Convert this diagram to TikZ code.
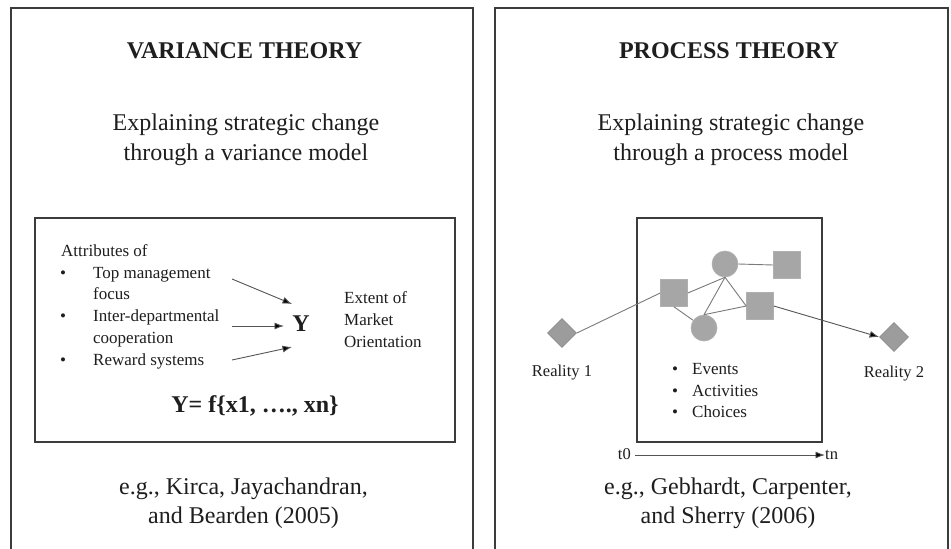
\documentclass[tikz,border=0pt]{standalone}
\usepackage{fontspec}
\setmainfont{Liberation Serif}
\usetikzlibrary{arrows.meta,shapes.geometric}
\definecolor{ink}{HTML}{1E1E1E}
\definecolor{frame}{HTML}{3C3C3C}
\definecolor{shapegray}{HTML}{9C9C9C}
\definecolor{shapeedge}{HTML}{8C8C8C}
\definecolor{linkgray}{HTML}{7A7A7A}
\tikzset{
  titlestyle/.style={font=\fontsize{24}{28}\selectfont\bfseries, text=ink, anchor=base, inner sep=0pt},
  bigtext/.style={font=\fontsize{24}{28}\selectfont, text=ink, anchor=base, inner sep=0pt},
  smalltext/.style={font=\fontsize{17}{20}\selectfont, text=ink, anchor=base west, inner sep=0pt},
  labeltext/.style={font=\fontsize{16.5}{20}\selectfont, text=ink, anchor=base, inner sep=0pt},
  outerframe/.style={draw=frame, line width=1.6pt},
  innerframe/.style={draw=frame, line width=1.8pt},
  diam/.style={diamond, aspect=1, minimum width=29pt, minimum height=29pt, inner sep=0pt, fill=shapegray, draw=shapeedge, line width=0.8pt},
  sqbox/.style={rectangle, minimum width=27pt, minimum height=27pt, inner sep=0pt, fill=shapegray!90!white, draw=shapegray!80!white, line width=0.6pt},
  circ/.style={circle, minimum size=26pt, inner sep=0pt, fill=shapegray!90!white, draw=shapegray!80!white, line width=0.6pt},
  link/.style={draw=linkgray, line width=0.9pt},
  arr/.style={draw=linkgray!70!black, line width=0.9pt, -{Latex[length=9.5pt,width=7pt,fill=black]}},
}
\begin{document}
\begin{tikzpicture}[x=1pt,y=-1pt]
\fill[white] (0,0) rectangle (951,549);
\useasboundingbox (0,0) rectangle (951,549);

% outer frames (open at the bottom)
\draw[outerframe] (11,549) -- (11,8) -- (473,8) -- (473,549);
\draw[outerframe] (495,549) -- (495,8) -- (948,8) -- (948,549);

% ===== left panel =====
\node[titlestyle] (vt) at (244.5,58) {VARIANCE THEORY};
\node[bigtext] (ve1) at (246,130) {Explaining strategic change};
\node[bigtext] (ve2) at (246,160) {through a variance model};

\draw[innerframe] (35,218) rectangle (455,442);

\node[smalltext] (attr) at (61,256) {Attributes of};
\node[smalltext] (d1) at (60,278) {\textbullet};
\node[smalltext] (b1) at (93,278) {Top management};
\node[smalltext] (b1b) at (93,299.5) {focus};
\node[smalltext] (d2) at (60,321) {\textbullet};
\node[smalltext] (b2) at (93,321) {Inter-departmental};
\node[smalltext] (b2b) at (93,343) {cooperation};
\node[smalltext] (d3) at (60,365) {\textbullet};
\node[smalltext] (b3) at (93,365) {Reward systems};

\node[titlestyle] (Y) at (301,331) {Y};
\node[smalltext] (ext1) at (344,303) {Extent of};
\node[smalltext] (ext2) at (344,325) {Market};
\node[smalltext] (ext3) at (344,347) {Orientation};

\coordinate (a1s) at (232,279);
\coordinate (a1e) at (292,304);
\coordinate (a2s) at (232,326);
\coordinate (a2e) at (284,326);
\coordinate (a3s) at (232,360);
\coordinate (a3e) at (292,347);
\draw[arr] (a1s) -- (a1e);
\draw[arr] (a2s) -- (a2e);
\draw[arr] (a3s) -- (a3e);

\node[titlestyle] (form) at (255,412) {Y= f\{x1, …., xn\}};

\node[bigtext] (vr1) at (243.5,494) {e.g., Kirca, Jayachandran,};
\node[bigtext] (vr2) at (243.5,523) {and Bearden (2005)};

% ===== right panel =====
\node[titlestyle] (pt) at (729,58) {PROCESS THEORY};
\node[bigtext] (pe1) at (731,130) {Explaining strategic change};
\node[bigtext] (pe2) at (731,160) {through a process model};

\draw[innerframe] (637,218) rectangle (822,442);

\node[diam] (r1) at (562,333) {};
\node[diam] (r2) at (894,337) {};
\node[sqbox] (s1) at (674,293) {};
\node[sqbox] (s2) at (787,265) {};
\node[sqbox] (s3) at (760,306) {};
\node[circ] (c1) at (725,264) {};
\node[circ] (c2) at (704,328) {};

\draw[link] (r1.east) -- (s1.west);
\draw[link] (s1.east) -- (c1.south);
\draw[link] (c1.south) -- (c2.north);
\draw[link] (c1.south) -- (s3.west);
\draw[link] (c2.north) -- (s3.west);
\draw[link] (s1.south) -- (c2);
\draw[link] (c1.east) -- (s2.west);
\draw[arr] (s3.east) -- (r2.west);

\node[labeltext] (rl1) at (562,376) {Reality 1};
\node[labeltext] (rl2) at (894,377) {Reality 2};

\node[smalltext] (e0) at (672,374) {\textbullet};
\node[smalltext] (e1) at (692,374) {Events};
\node[smalltext] (e0b) at (672,396) {\textbullet};
\node[smalltext] (e2) at (692,396) {Activities};
\node[smalltext] (e0c) at (672,417) {\textbullet};
\node[smalltext] (e3) at (692,417) {Choices};

\node[labeltext, anchor=base east] (t0) at (631,459) {t0};
\node[labeltext, anchor=base west] (tn) at (825,459) {tn};
\draw[arr] (t0.east |- 0,455) ++(4,0) coordinate (tstart) -- (tn.west |- 0,455);

\node[bigtext] (pr1) at (728,494) {e.g., Gebhardt, Carpenter,};
\node[bigtext] (pr2) at (728,523) {and Sherry (2006)};
\end{tikzpicture}
\end{document}
